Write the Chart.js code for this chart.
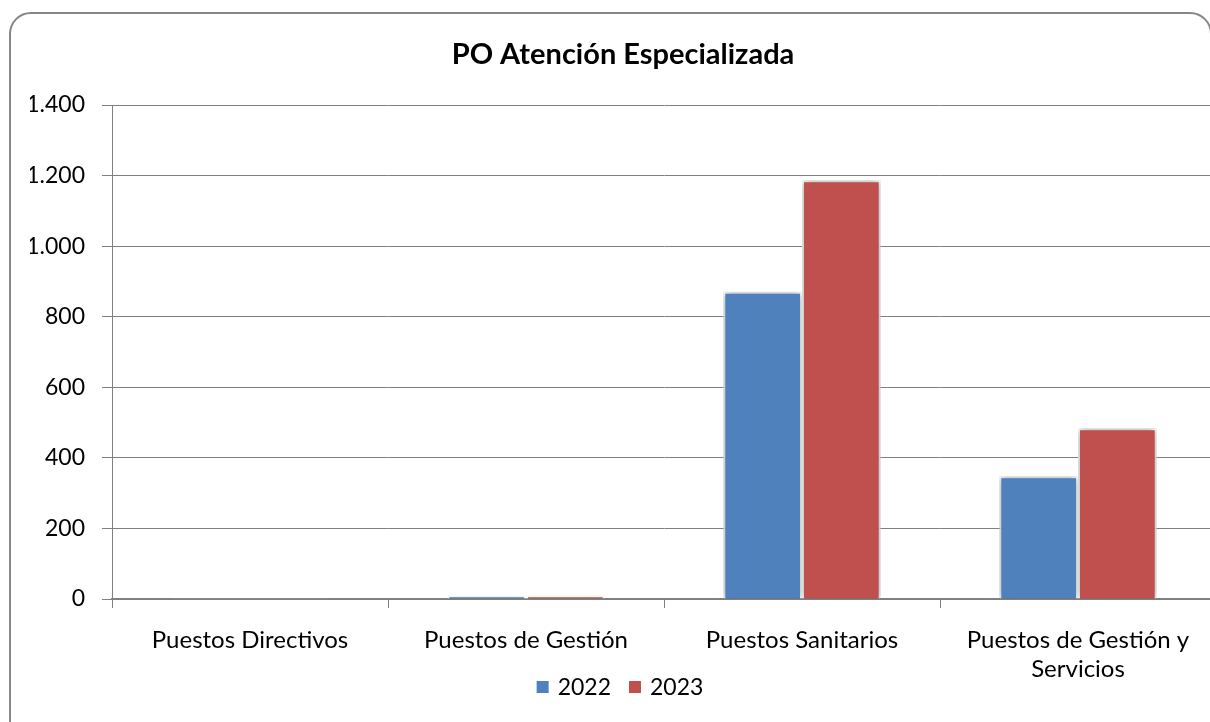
<!DOCTYPE html>
<html lang="es">
<head>
<meta charset="utf-8">
<title>PO Atención Especializada</title>
<script src="https://cdn.jsdelivr.net/npm/chart.js@4"></script>
<style>
  html, body { margin: 0; padding: 0; background: #fff; overflow: hidden; }
  #marco {
    position: absolute; left: 9px; top: 12px; width: 1203px; height: 800px;
    box-sizing: border-box; border: 2px solid #868686; border-radius: 22px;
  }
  #chart { position: absolute; left: 0; top: 0; }
</style>
</head>
<body>
<div id="marco"></div>
<canvas id="chart" width="1216" height="722"></canvas>
<script>
// Datos del gráfico
const categorias = [
  "Puestos Directivos",
  "Puestos de Gestión",
  "Puestos Sanitarios",
  ["Puestos de Gestión y", "Servicios"]
];
const valores2022 = [1, 9, 871, 348];
const valores2023 = [1, 9, 1187, 484];
const ticksY = [0, 200, 400, 600, 800, 1000, 1200, 1400];

const fuente = "Lato, 'Noto Sans', sans-serif";

// Formato con punto de miles (1.400)
function formatoMiles(v) {
  return String(v).replace(/\B(?=(\d{3})+(?!\d))/g, ".");
}

// Sombra suave alrededor de las barras
const sombraBarras = {
  id: "sombraBarras",
  beforeDatasetsDraw(chart) {
    const c = chart.ctx;
    c.save();
    c.shadowColor = "rgba(0,0,0,0.4)";
    c.shadowBlur = 8;
    c.shadowOffsetX = 0;
    c.shadowOffsetY = 0;
  },
  afterDatasetsDraw(chart) {
    chart.ctx.restore();
  }
};

// Leyenda dibujada a mano, encima del área del eje X (como en Excel)
const leyenda = {
  id: "leyenda",
  afterDraw(chart) {
    const c = chart.ctx;
    const sets = chart.data.datasets;
    const caja = 12, hueco = 9, sep = 18;
    c.save();
    c.font = `23px ${fuente}`;
    c.textBaseline = "middle";
    const anchos = sets.map(d => caja + hueco + c.measureText(d.label).width);
    const total = anchos.reduce((a, b) => a + b, 0) + sep * (sets.length - 1);
    let x = (chart.chartArea.left + chart.chartArea.right) / 2 - 44 - total / 2;
    const y = chart.chartArea.bottom + 88;
    sets.forEach((d, i) => {
      c.fillStyle = d.backgroundColor;
      c.fillRect(x, y - caja / 2, caja, caja);
      c.fillStyle = "#000";
      c.fillText(d.label, x + caja + hueco, y + 1);
      x += anchos[i] + sep;
    });
    c.restore();
  }
};

new Chart(document.getElementById("chart"), {
  type: "bar",
  data: {
    labels: categorias,
    datasets: [
      { label: "2022", data: valores2022, backgroundColor: "#4F81BD", borderColor: "#fff", borderWidth: 2 },
      { label: "2023", data: valores2023, backgroundColor: "#C0504D", borderColor: "#fff", borderWidth: 2 }
    ]
  },
  options: {
    responsive: false,
    animation: false,
    devicePixelRatio: 1,
    layout: { padding: { left: 30, right: 0, top: 0, bottom: 0 } },
    datasets: { bar: { categoryPercentage: 0.57, barPercentage: 1 } },
    scales: {
      x: {
        grid: { offset: true, drawOnChartArea: false, color: "#808080", tickLength: 9 },
        border: { color: "#808080", width: 1.5 },
        ticks: { color: "#000", font: { family: fuente, size: 24 }, padding: 18, maxRotation: 0, autoSkip: false },
        afterFit(scale) { scale.height = 123; }
      },
      y: {
        min: 0,
        max: 1400,
        afterBuildTicks(scale) { scale.ticks = ticksY.map(v => ({ value: v })); },
        grid: { color: "#808080", tickLength: 10 },
        border: { color: "#808080", width: 1 },
        ticks: { color: "#000", font: { family: fuente, size: 23 }, padding: 17, callback: v => formatoMiles(v) },
        afterFit(scale) { scale.width = 82; }
      }
    },
    plugins: {
      title: {
        display: true,
        text: "PO Atención Especializada",
        color: "#000",
        font: { family: fuente, size: 29, weight: "bold" },
        padding: { top: 37, bottom: 33.2 }
      },
      legend: { display: false },
      tooltip: { enabled: false }
    }
  },
  plugins: [sombraBarras, leyenda]
});
</script>
</body>
</html>
